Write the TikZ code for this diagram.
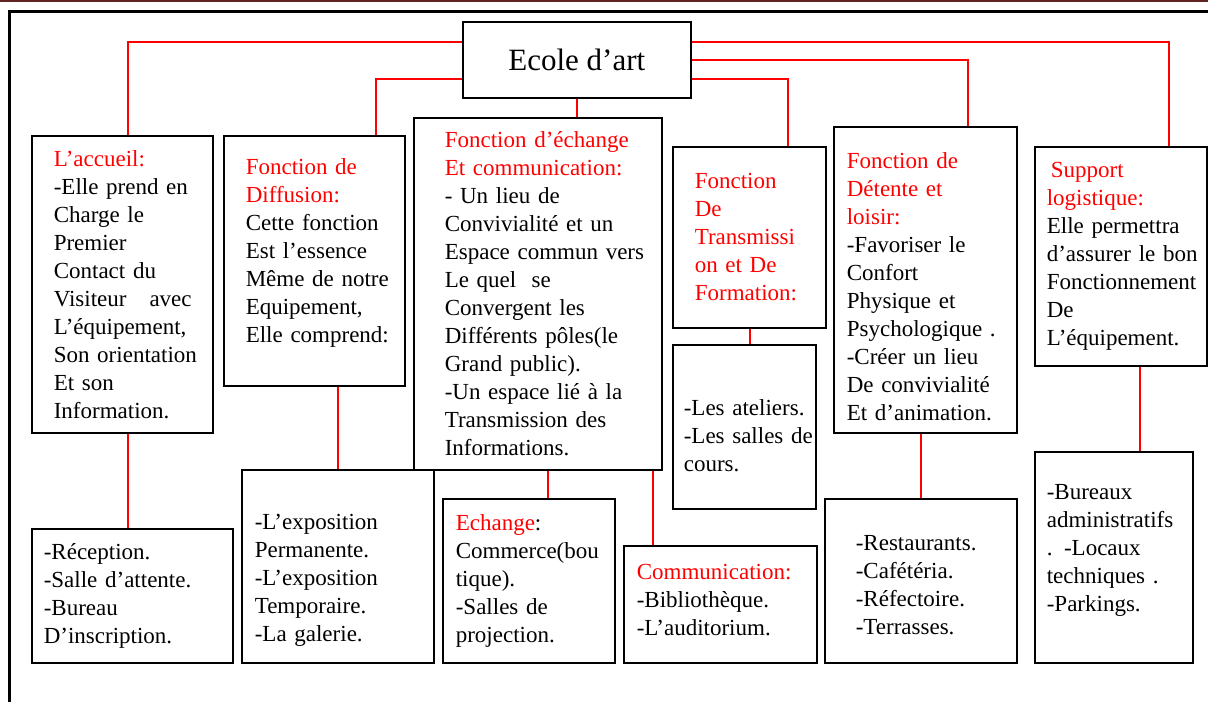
\documentclass[tikz,border=0pt]{standalone}
\usepackage{fontspec}
\setmainfont{Liberation Serif}
\usepackage{xcolor}
\usetikzlibrary{positioning, calc}
\definecolor{pagerule}{RGB}{98,36,35}
\newcommand{\fhead}[1]{\textcolor{red}{#1}}

\begin{document}
\begin{tikzpicture}[
  x=1pt, y=-1pt,
  box/.style={draw, line width=1.6pt, anchor=north west, inner sep=0pt,
              align=left, font=\fontsize{23}{28}\selectfont},
  dims/.style 2 args={text width=#1pt, minimum height=#2pt},
  pad/.style={execute at begin node={\leftskip=#1\hyphenpenalty=10000\exhyphenpenalty=10000}},
  lift/.style={execute at end node={\endgraf\kern#1}},
  link/.style={draw=red, line width=1.6pt}
]
  \useasboundingbox (0,0) rectangle (1208,702);
  % page rules
  \draw[pagerule, line width=2pt] (0,1) -- (1208,1);
  \draw[line width=3pt] (9.5,702) -- (9.5,11) -- (1208,11);

  % root
  \node[draw, line width=1.6pt, anchor=north west, inner sep=0pt,
        minimum width=228pt, minimum height=76pt,
        font=\fontsize{31}{36}\selectfont] (root) at (462,21) {Ecole d’art};

  % first row: the functions
  \node[box, dims={181}{297}, pad=22pt] (accueil) at (31,135)
    {\fhead{L’accueil:}\\ -Elle prend en\\ Charge le\\ Premier\\ Contact du\\
     Visiteur\ \ \ avec\\ L’équipement,\\ Son orientation\\ Et son\\ Information.};
  \node[box, dims={181}{250}, pad=22pt, lift=16pt] (diff) at (223,135)
    {\fhead{Fonction de}\\ \fhead{Diffusion:}\\ Cette fonction\\ Est l’essence\\
     Même de notre\\ Equipement,\\ Elle comprend:};
  \node[box, dims={248}{352}, pad=31pt] (echg) at (413,117)
    {\fhead{Fonction d’échange}\\ \fhead{Et communication:}\\ - Un lieu de\\
     Convivialité et un\\ Espace commun vers\\ Le quel\ \ se\\ Convergent les\\
     Différents pôles(le\\ Grand public).\\ -Un espace lié à la\\
     Transmission des\\ Informations.};
  \node[box, dims={153}{181}, pad=22pt] (trans) at (672,146)
    {\fhead{Fonction}\\ \fhead{De}\\ \fhead{Transmissi}\\ \fhead{on et De}\\
     \fhead{Formation:}};
  \node[box, dims={183}{306}, pad=13pt, lift=-14pt] (det) at (833,126)
    {\fhead{Fonction de}\\ \fhead{Détente et}\\ \fhead{loisir:}\\ -Favoriser le\\
     Confort\\ Physique et\\ Psychologique .\\ -Créer un lieu\\ De convivialité\\
     Et d’animation.};
  \node[box, dims={172}{219}, pad=12pt] (supp) at (1034,146)
    {\fhead{\hspace*{4pt}Support}\\ \fhead{logistique:}\\ Elle permettra\\
     d’assurer le bon\\ Fonctionnement\\ De\\ L’équipement.};

  % second row: the spaces
  \node[box, dims={201}{134}, pad=12pt] (accsub) at (31,528)
    {-Réception.\\ -Salle d’attente.\\ -Bureau\\ D’inscription.};
  \node[box, dims={192}{193}, pad=13pt, lift=-28pt] (diffsub) at (241,469)
    {-L’exposition\\ Permanente.\\ -L’exposition\\ Temporaire.\\ -La galerie.};
  \node[box, dims={172}{164}, pad=13pt] (echsub) at (442,498)
    {\fhead{Echange}:\\ Commerce(bou\\ tique).\\ -Salles de\\ projection.};
  \node[box, dims={193}{117}, pad=13pt, lift=8pt] (comm) at (623,545)
    {\fhead{Communication:}\\ -Bibliothèque.\\ -L’auditorium.};
  \node[box, dims={143}{164}, pad=11pt, lift=-18pt] (transsub) at (672,344)
    {-Les ateliers.\\ -Les salles de\\ cours.};
  \node[box, dims={192}{164}, pad=31pt, lift=-8pt] (detsub) at (824,498)
    {-Restaurants.\\ -Cafétéria.\\ -Réfectoire.\\ -Terrasses.};
  \node[box, dims={158}{211}, pad=12pt, lift=14pt] (suppsub) at (1034,451)
    {-Bureaux\\ administratifs\\ . -Locaux\\ techniques .\\ -Parkings.};

  % links from the root
  \draw[link] ([yshift=18pt]root.west) -| ([xshift=5.5pt]accueil.north);
  \draw[link] ([yshift=-19pt]root.west) -| ([xshift=61.5pt]diff.north);
  \draw[link] (root.south) -- (root.south |- echg.north);
  \draw[link] ([yshift=18pt]root.east) -| ([xshift=48pt]supp.north);
  \draw[link] (root.east) -| ([xshift=42.5pt]det.north);
  \draw[link] ([yshift=-19pt]root.east) -| ([xshift=38.5pt]trans.north);

  % links down to the spaces
  \coordinate (acc-s) at ([xshift=5.5pt]accueil.south);
  \coordinate (ech-s) at ([xshift=10pt]echg.south);
  \coordinate (com-s) at ([xshift=115pt]echg.south);
  \coordinate (tra-s) at ([xshift=0.5pt]trans.south);
  \coordinate (sup-s) at ([xshift=19pt]supp.south);
  \draw[link] (acc-s) -- (acc-s |- accsub.north);
  \draw[link] (diffsub.north) -- (diffsub.north |- diff.south);
  \draw[link] (ech-s) -- (ech-s |- echsub.north);
  \draw[link] (com-s) -- (com-s |- comm.north);
  \draw[link] (tra-s) -- (tra-s |- transsub.north);
  \draw[link] (detsub.north) -- (detsub.north |- det.south);
  \draw[link] (sup-s) -- (sup-s |- suppsub.north);
\end{tikzpicture}
\end{document}
